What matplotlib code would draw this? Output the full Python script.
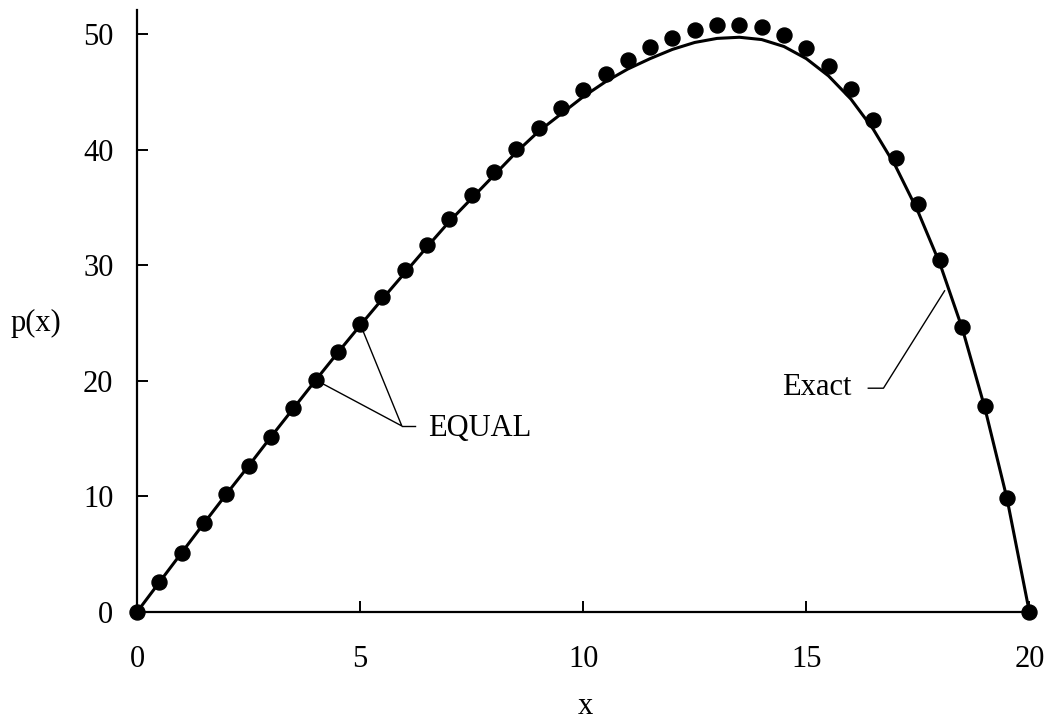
import matplotlib
matplotlib.use("Agg")
import matplotlib.pyplot as plt
import numpy as np

plt.rcParams['font.family'] = ['Liberation Serif', 'DejaVu Serif']

# grid points used by the EQUAL scheme
x_pts = np.arange(0, 20.5, 0.5)
p_equal = [0.0, 2.57, 5.13, 7.68, 10.19, 12.64, 15.18, 17.63, 20.09, 22.54,
           24.94, 27.3, 29.6, 31.8, 34.0, 36.1, 38.1, 40.1, 41.9, 43.6,
           45.2, 46.6, 47.8, 48.9, 49.7, 50.4, 50.8, 50.85, 50.6, 49.96,
           48.86, 47.27, 45.25, 42.6, 39.3, 35.3, 30.5, 24.7, 17.8, 9.9, 0.0]

# exact solution sampled on the same grid
p_exact = [0.0, 2.57, 5.13, 7.68, 10.19, 12.64, 15.15, 17.6, 20.05, 22.45,
           24.8, 27.1, 29.35, 31.6, 33.8, 35.8, 37.8, 39.8, 41.6, 43.1,
           44.6, 45.9, 47.0, 47.9, 48.7, 49.3, 49.65, 49.75, 49.55, 48.95,
           47.9, 46.4, 44.4, 41.8, 38.6, 34.7, 30.1, 24.5, 17.7, 9.8, 0.0]

FS = 22

fig = plt.figure(figsize=(10.51, 7.22), dpi=100)
ax = fig.add_axes([0.1304, 0.1524, 0.8490, 0.8336])

ax.plot(x_pts, p_exact, color='black', lw=2.2, zorder=2)
ax.plot(x_pts, p_equal, 'o', color='black', ms=10.8, clip_on=False, zorder=3)

ax.set_xlim(0, 20)
ax.set_ylim(0, 52.1)
ax.set_xticks([0, 5, 10, 15, 20])
ax.set_yticks([0, 10, 20, 30, 40, 50])

for side in ['top', 'right']:
    ax.spines[side].set_visible(False)
for side in ['left', 'bottom']:
    ax.spines[side].set_linewidth(1.6)

ax.tick_params(axis='both', direction='in', length=8, width=1.4, labelsize=FS)
ax.tick_params(axis='y', pad=17)
ax.tick_params(axis='x', pad=24)

ax.set_ylabel('p(x)', rotation=0, fontsize=FS, ha='center', va='center')
ax.yaxis.set_label_coords(-0.113, 0.48)
ax.set_xlabel('x', fontsize=FS, va='bottom')
ax.xaxis.set_label_coords(0.502, -0.181)

# leader lines for the labels
lk = dict(color='black', lw=1.0, zorder=1, clip_on=False)
ax.plot([4.0, 5.935, 5.0], [20.09, 16.1, 24.94], **lk)
ax.plot([5.935, 6.23], [16.1, 16.1], **lk)
ax.text(6.52, 15.9, 'EQUAL', fontsize=FS, ha='left', va='center')

ax.plot([16.39, 16.73, 18.10], [19.37, 19.37, 27.8], **lk)
ax.text(16.02, 19.4, 'Exact', fontsize=FS, ha='right', va='center')

fig.savefig('out.png', dpi=100)
